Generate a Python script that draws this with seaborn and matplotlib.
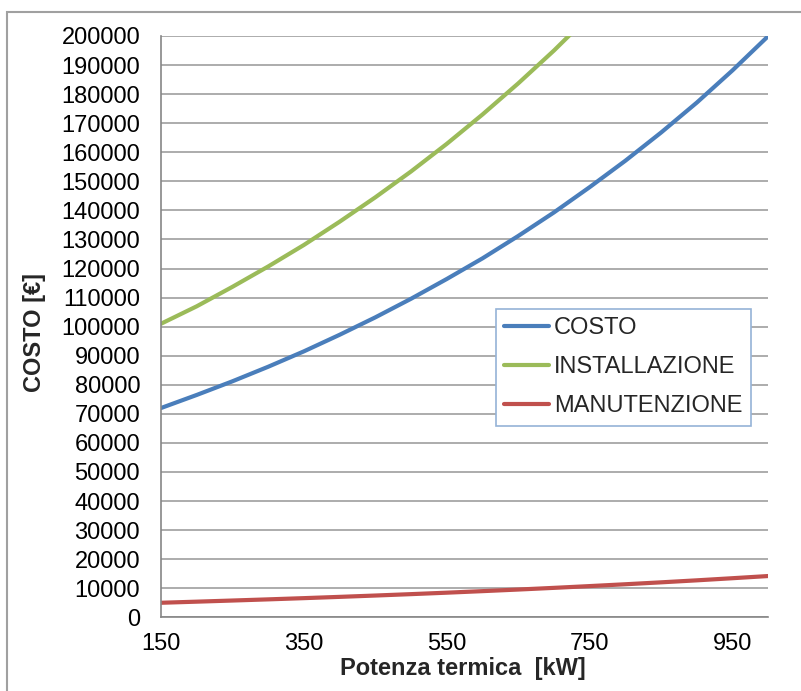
import matplotlib
matplotlib.use("Agg")
import matplotlib.pyplot as plt
import matplotlib.patches as mpatches
import pandas as pd
import seaborn as sns

# Thermal power [kW]
potenza = [150, 200, 250, 300, 350, 400, 450, 500, 550, 600,
           650, 700, 750, 800, 850, 900, 950, 1000]

# Costs [EUR]
costo = [72000, 76500, 81200, 86200, 91500, 97200, 103200, 109600, 116400, 123500,
         131200, 139300, 148000, 157100, 166800, 177100, 188200, 200000]
installazione = [101000, 107000, 113700, 120700, 128100, 136100, 144500, 153400,
                 162900, 173000, 183700, 195000, 207100]
manutenzione = [5000, 5380, 5770, 6170, 6590, 7030, 7490, 7970, 8470, 9000,
                9550, 10130, 10740, 11370, 12030, 12720, 13450, 14200]

serie = ["COSTO", "INSTALLAZIONE", "MANUTENZIONE"]
colori = ["#4A7EBB", "#9BBB59", "#C0504D"]

x_ticks = [150, 350, 550, 750, 950]
y_ticks = list(range(0, 200001, 10000))

df = pd.concat([
    pd.DataFrame({"Potenza": potenza, "Costo": costo, "Voce": serie[0]}),
    pd.DataFrame({"Potenza": potenza[:len(installazione)], "Costo": installazione, "Voce": serie[1]}),
    pd.DataFrame({"Potenza": potenza, "Costo": manutenzione, "Voce": serie[2]}),
], ignore_index=True)

sns.set_style("white")
plt.rcParams["font.family"] = ["Liberation Sans", "DejaVu Sans"]

W, H = 801, 691
FS = 17
fig = plt.figure(figsize=(W / 100, H / 100), dpi=100)
ax = fig.add_axes([161 / W, 1 - 617.3 / H, (768.3 - 161) / W, (617.3 - 36) / H])

sns.lineplot(data=df, x="Potenza", y="Costo", hue="Voce", hue_order=serie,
             palette=colori, linewidth=3.0, ax=ax, sort=False, estimator=None)

ax.set_xlim(150, 1000)
ax.set_ylim(0, 200000)
ax.set_xticks(x_ticks)
ax.set_xticklabels([str(v) for v in x_ticks])
ax.set_yticks(y_ticks)
ax.set_yticklabels([str(v) for v in y_ticks])
ax.tick_params(axis="both", labelsize=FS, colors="#868686", labelcolor="black",
               direction="out", length=6, width=1.2)
ax.tick_params(axis="y", pad=9)
ax.tick_params(axis="x", pad=4, length=7)

ax.grid(axis="y", color="#A6A6A6", linewidth=1.3)
ax.grid(axis="x", visible=False)
ax.set_axisbelow(True)
for side in ["top", "right"]:
    ax.spines[side].set_visible(False)
for side in ["left", "bottom"]:
    ax.spines[side].set_color("#868686")
    ax.spines[side].set_linewidth(1.2)

ax.set_xlabel("")
ax.set_ylabel("")
fig.text(463 / W, 1 - 669 / H, "Potenza termica  [kW]", fontsize=FS, fontweight="bold",
         ha="center", va="center")
fig.text(35 / W, 1 - 332 / H, "COSTO [€]", fontsize=FS, fontweight="bold",
         ha="center", va="center", rotation=90)

handles, labels = ax.get_legend_handles_labels()
leg = ax.legend(handles, labels, loc="upper left",
                bbox_to_anchor=(496 / W, 1 - 309 / H), bbox_transform=fig.transFigure,
                fontsize=FS, frameon=True, fancybox=False, framealpha=1,
                handlelength=1.9, handletextpad=0.2, labelspacing=0.72,
                borderpad=0.35, borderaxespad=0)
leg.get_frame().set_edgecolor("#95B3D7")
leg.get_frame().set_linewidth(1.2)
for line in leg.get_lines():
    line.set_linewidth(3.0)

# Chart-area border (runs off the right and bottom edges)
fig.patches.append(mpatches.Rectangle((7 / W, -0.1), 2.0, (H - 12) / H + 0.1,
                                      transform=fig.transFigure, fill=False,
                                      edgecolor="#A0A0A0", linewidth=1.5))

fig.savefig("out.png", dpi=100)
